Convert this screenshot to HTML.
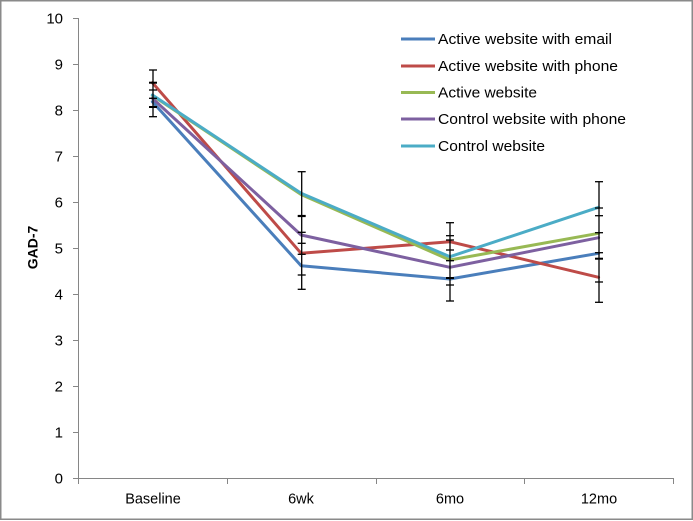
<!DOCTYPE html>
<html>
<head>
<meta charset="utf-8">
<style>
  html, body { margin: 0; padding: 0; background: #fff; }
  svg { display: block; }
  text { font-family: "Liberation Sans", Arial, sans-serif; fill: #000; }
</style>
</head>
<body>
<svg width="693" height="521" viewBox="0 0 693 521" xmlns="http://www.w3.org/2000/svg">
  <rect x="0" y="0" width="693" height="521" fill="#fff"/>
  <rect x="0.75" y="0.75" width="691.5" height="518.5" fill="none" stroke="#8a8a8a" stroke-width="1.5"/>

  <!-- axes -->
  <g stroke="#868686" stroke-width="1" fill="none" shape-rendering="crispEdges">
    <line x1="78.5" y1="18" x2="78.5" y2="484"/>
    <line x1="78" y1="478.5" x2="673.5" y2="478.5"/>
    <!-- y ticks -->
    <line x1="73" y1="18.5" x2="78" y2="18.5"/>
    <line x1="73" y1="64.5" x2="78" y2="64.5"/>
    <line x1="73" y1="110.5" x2="78" y2="110.5"/>
    <line x1="73" y1="156.5" x2="78" y2="156.5"/>
    <line x1="73" y1="202.5" x2="78" y2="202.5"/>
    <line x1="73" y1="248.5" x2="78" y2="248.5"/>
    <line x1="73" y1="294.5" x2="78" y2="294.5"/>
    <line x1="73" y1="340.5" x2="78" y2="340.5"/>
    <line x1="73" y1="386.5" x2="78" y2="386.5"/>
    <line x1="73" y1="432.5" x2="78" y2="432.5"/>
    <line x1="73" y1="478.5" x2="78" y2="478.5"/>
    <!-- x ticks -->
    <line x1="227.5" y1="478" x2="227.5" y2="484"/>
    <line x1="376.5" y1="478" x2="376.5" y2="484"/>
    <line x1="524.5" y1="478" x2="524.5" y2="484"/>
    <line x1="673.5" y1="478" x2="673.5" y2="484"/>
  </g>

  <!-- y tick labels -->
  <g font-size="15" text-anchor="end">
    <text x="63" y="23.5">10</text>
    <text x="63" y="69.5">9</text>
    <text x="63" y="115.5">8</text>
    <text x="63" y="161.5">7</text>
    <text x="63" y="207.5">6</text>
    <text x="63" y="253.5">5</text>
    <text x="63" y="299.5">4</text>
    <text x="63" y="345.5">3</text>
    <text x="63" y="391.5">2</text>
    <text x="63" y="437.5">1</text>
    <text x="63" y="483.5">0</text>
  </g>

  <!-- x labels -->
  <g font-size="14.5" text-anchor="middle">
    <text x="153" y="503.5">Baseline</text>
    <text x="301" y="503.5">6wk</text>
    <text x="450" y="503.5">6mo</text>
    <text x="599" y="503.5">12mo</text>
  </g>

  <!-- y axis title -->
  <text x="0" y="0" font-size="14" font-weight="bold" text-anchor="middle" transform="translate(37.5,247.5) rotate(-90)">GAD-7</text>

  <!-- series -->
  <g fill="none" stroke-width="3" stroke-linejoin="round" stroke-linecap="round">
    <polyline stroke="#4A7EBB" points="152.4,101.7 301.1,265.7 449.9,279 598.6,253.3"/>
    <polyline stroke="#BE4B48" points="152.4,82.7 301.1,253.3 449.9,241.7 598.6,277.3"/>
    <polyline stroke="#98B954" points="152.4,95.5 301.1,194.5 449.9,260 598.6,233.3"/>
    <polyline stroke="#7D60A0" points="152.4,98.3 301.1,235 449.9,267.3 598.6,237.7"/>
    <polyline stroke="#4BACC6" points="152.4,95 301.1,193.3 449.9,256.7 598.6,207.3"/>
  </g>

  <!-- error bars -->
  <g stroke="#000" stroke-width="1.3" fill="none">
    <!-- baseline -->
    <line x1="153" y1="70" x2="153" y2="116.7"/>
    <line x1="149" y1="70" x2="157" y2="70"/>
    <line x1="149" y1="82.7" x2="157" y2="82.7" stroke-width="2"/>
    <line x1="149" y1="90" x2="157" y2="90"/>
    <line x1="149" y1="98.3" x2="157" y2="98.3"/>
    <line x1="149" y1="107" x2="157" y2="107" stroke-width="2"/>
    <line x1="149" y1="116.7" x2="157" y2="116.7"/>
    <!-- 6wk -->
    <line x1="301.7" y1="171.7" x2="301.7" y2="289.3"/>
    <line x1="297.7" y1="171.7" x2="305.7" y2="171.7"/>
    <line x1="297.7" y1="216" x2="305.7" y2="216" stroke-width="2.2"/>
    <line x1="297.7" y1="232.3" x2="305.7" y2="232.3"/>
    <line x1="297.7" y1="243.3" x2="305.7" y2="243.3"/>
    <line x1="297.7" y1="254.3" x2="305.7" y2="254.3"/>
    <line x1="297.7" y1="275" x2="305.7" y2="275"/>
    <line x1="297.7" y1="289.3" x2="305.7" y2="289.3"/>
    <!-- 6mo -->
    <line x1="450" y1="222.7" x2="450" y2="301"/>
    <line x1="446" y1="222.7" x2="454" y2="222.7"/>
    <line x1="446" y1="235.7" x2="454" y2="235.7"/>
    <line x1="446" y1="240" x2="454" y2="240"/>
    <line x1="446" y1="250" x2="454" y2="250"/>
    <line x1="446" y1="260.7" x2="454" y2="260.7"/>
    <line x1="446" y1="278" x2="454" y2="278" stroke-width="2"/>
    <line x1="446" y1="285" x2="454" y2="285"/>
    <line x1="446" y1="301" x2="454" y2="301"/>
    <!-- 12mo -->
    <line x1="599" y1="181.7" x2="599" y2="302.3"/>
    <line x1="595" y1="181.7" x2="603" y2="181.7"/>
    <line x1="595" y1="208" x2="603" y2="208"/>
    <line x1="595" y1="215.7" x2="603" y2="215.7"/>
    <line x1="595" y1="232.7" x2="603" y2="232.7"/>
    <line x1="595" y1="252.7" x2="603" y2="252.7"/>
    <line x1="595" y1="258.7" x2="603" y2="258.7" stroke-width="2"/>
    <line x1="595" y1="282" x2="603" y2="282"/>
    <line x1="595" y1="302.3" x2="603" y2="302.3"/>
  </g>

  <!-- legend -->
  <g stroke-width="3" fill="none">
    <line x1="401" y1="39" x2="435" y2="39" stroke="#4A7EBB"/>
    <line x1="401" y1="66" x2="435" y2="66" stroke="#BE4B48"/>
    <line x1="401" y1="92.5" x2="435" y2="92.5" stroke="#98B954"/>
    <line x1="401" y1="119" x2="435" y2="119" stroke="#7D60A0"/>
    <line x1="401" y1="146" x2="435" y2="146" stroke="#4BACC6"/>
  </g>
  <g font-size="15">
    <text x="438" y="44" textLength="174" lengthAdjust="spacingAndGlyphs">Active website with email</text>
    <text x="438" y="71" textLength="180" lengthAdjust="spacingAndGlyphs">Active website with phone</text>
    <text x="438" y="97.5" textLength="99" lengthAdjust="spacingAndGlyphs">Active website</text>
    <text x="438" y="124" textLength="188" lengthAdjust="spacingAndGlyphs">Control website with phone</text>
    <text x="438" y="151" textLength="107" lengthAdjust="spacingAndGlyphs">Control website</text>
  </g>
</svg>
</body>
</html>
